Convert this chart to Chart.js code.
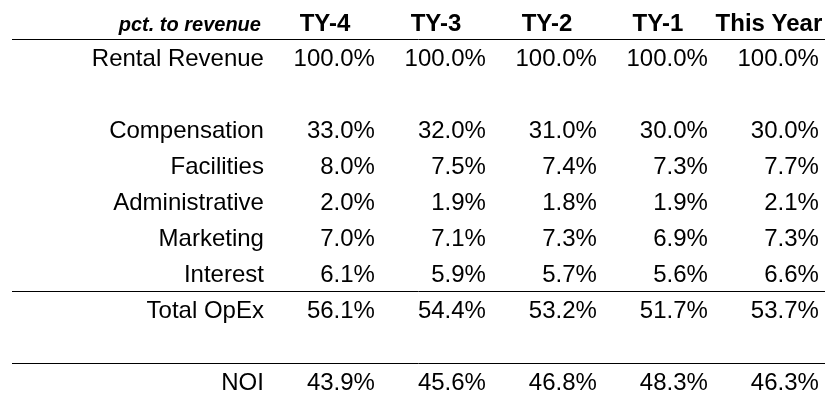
<!DOCTYPE html>
<html>
<head>
<meta charset="utf-8">
<script src="https://cdn.jsdelivr.net/npm/chart.js@4.4.1/dist/chart.umd.min.js"></script>
<style>
  html, body { margin: 0; padding: 0; background: #ffffff; }
  #wrap { width: 832px; height: 400px; position: relative; }
</style>
</head>
<body>
<div id="wrap"><canvas id="c"></canvas></div>
<script>
// ---- data ----
const cornerLabel = 'pct. to revenue';
const years = ['TY-4', 'TY-3', 'TY-2', 'TY-1', 'This Year'];
const rowLabels = ['Rental Revenue', '', 'Compensation', 'Facilities', 'Administrative', 'Marketing', 'Interest', 'Total OpEx', '', 'NOI'];
const ty4      = [100.0, null, 33.0, 8.0, 2.0, 7.0, 6.1, 56.1, null, 43.9];
const ty3      = [100.0, null, 32.0, 7.5, 1.9, 7.1, 5.9, 54.4, null, 45.6];
const ty2      = [100.0, null, 31.0, 7.4, 1.8, 7.3, 5.7, 53.2, null, 46.8];
const ty1      = [100.0, null, 30.0, 7.3, 1.9, 6.9, 5.6, 51.7, null, 48.3];
const thisYear = [100.0, null, 30.0, 7.7, 2.1, 7.3, 6.6, 53.7, null, 46.3];
const series = [ty4, ty3, ty2, ty1, thisYear];
// rows after which a rule is drawn (row index in table: 0 = header)
const ruleAfterRows = [0, 7, 9];

// ---- build datasets (one point per cell) ----
const datasets = series.map((vals, ci) => ({
  label: years[ci],
  data: vals.map((v, ri) => v === null ? null : { x: ci + 1, y: ri + 1, v: v }).filter(p => p !== null),
  pointRadius: 0,
  pointHoverRadius: 0,
  showLine: false
}));

const FONT = '"Liberation Sans", Arial, sans-serif';

const tablePlugin = {
  id: 'tableText',
  afterDatasetsDraw(chart) {
    const { ctx, chartArea } = chart;
    const xs = chart.scales.x, ys = chart.scales.y;
    const ALIGN = 0.45;
    ctx.save();
    // rules
    ctx.strokeStyle = '#000000';
    ctx.lineWidth = 1;
    ruleAfterRows.forEach(r => {
      const py = Math.round(ys.getPixelForValue(r + 0.5)) + 0.5;
      ctx.beginPath();
      ctx.moveTo(chartArea.left, py);
      ctx.lineTo(chartArea.right, py);
      ctx.stroke();
    });
    ctx.fillStyle = '#000000';
    ctx.textBaseline = 'alphabetic';
    // header row
    const hy = ys.getPixelForValue(0) + 9.5;
    ctx.font = 'italic bold 20px ' + FONT;
    ctx.textAlign = 'right';
    ctx.fillText(cornerLabel, xs.getPixelForValue(0 + ALIGN) - 3, hy);
    ctx.font = 'bold 24px ' + FONT;
    ctx.textAlign = 'center';
    years.forEach((yr, ci) => {
      ctx.fillText(yr, xs.getPixelForValue(ci + 1), hy);
    });
    // row labels
    ctx.font = '24px ' + FONT;
    ctx.textAlign = 'right';
    rowLabels.forEach((lab, ri) => {
      if (!lab) return;
      ctx.fillText(lab, xs.getPixelForValue(0 + ALIGN), ys.getPixelForValue(ri + 1) + 8.6);
    });
    // values from dataset elements
    chart.data.datasets.forEach((ds, di) => {
      const meta = chart.getDatasetMeta(di);
      meta.data.forEach((el, i) => {
        const p = ds.data[i];
        const rx = xs.getPixelForValue(p.x + ALIGN);
        ctx.fillText(p.v.toFixed(1) + '%', rx, el.y + 8.6);
      });
    });
    ctx.restore();
  }
};

new Chart(document.getElementById('c'), {
  type: 'scatter',
  data: { datasets },
  options: {
    responsive: true,
    maintainAspectRatio: false,
    animation: false,
    events: [],
    layout: { padding: { left: 12, right: 7, top: 3, bottom: 1 } },
    plugins: { legend: { display: false }, tooltip: { enabled: false } },
    scales: {
      x: { type: 'linear', display: false, min: -1.82, max: 5.505 },
      y: { type: 'linear', display: false, reverse: true, min: -0.5, max: 10.5 }
    }
  },
  plugins: [tablePlugin]
});
</script>
</body>
</html>
